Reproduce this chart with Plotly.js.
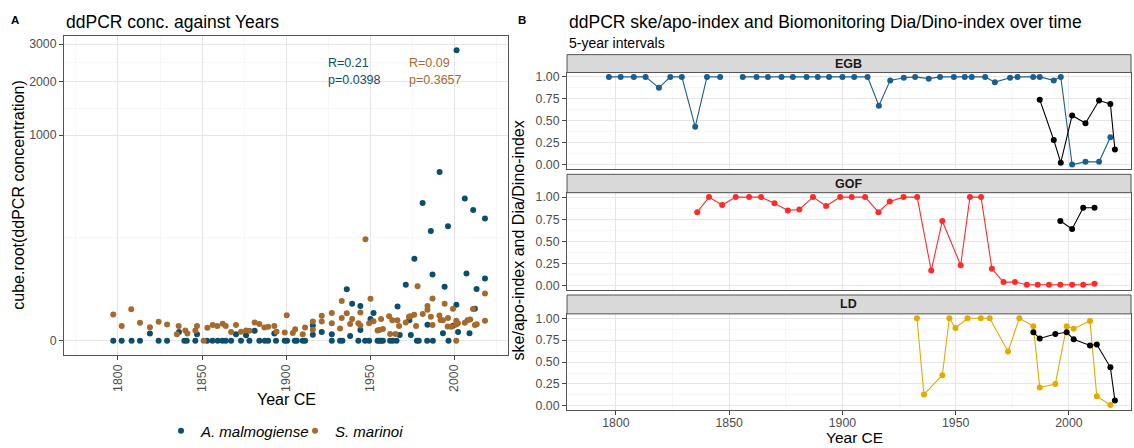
<!DOCTYPE html>
<html>
<head>
<meta charset="utf-8">
<script src="https://cdn.plot.ly/plotly-3.0.1.min.js"></script>
<style>html,body{margin:0;padding:0;background:#fff;}#chart{width:1134px;height:448px;}</style>
</head>
<body>
<div id="chart"></div>
<script>
// ---------- Panel A data: cube root of ddPCR concentration ----------
const amalYear = [1797.2,1802.2,1808.1,1813.1,1824.2,1829.2,1839.5,1840.9,1846,1853,1856.2,1859.3,1862.1,1864.1,1867.3,1873.2,1878.2,1884.1,1887.3,1889.3,1894,1899.2,1900.6,1905.2,1906.4,1909.9,1911.3,1927.2,1932.1,1933.5,1943,1947,1949.4,1954.4,1955.4,1956.5,1957.6,1961.9,1963.5,1965.7,1977.8,1978.9,1983.9,1987.3,1996.6,
  1819,1836.3,1847,1870.2,1876.2,1881.3,1893,1915.9,1915.9,1921.2,1927.2,1936.1,1938.1,1939.3,1944.2,1944.2,1950.2,1952,1966.3,1967.6,1971.2,1973.3,1974.2,1976.3,1981.2,1984.1,1986.1,1987.1,1991.3,1993.3,1994.3,1996.3,1999.3,2001.3,2001.4,2002.3,2006.3,2007.3,2009.1,2011.3,2012.3,2013.3,2018.3,2018.3];
const amalCbrt = [0,0,0,0,0,0,0,0,0,0,0,0,0,0,0,0,0,0,0,0,0,0,0,0,0,0,0,0,0,0,0,0,0,0,0,0,0,0,0,0,0,0,0,0,0,
  0.35,0.42,0.32,0.32,0.27,0.48,0.35,0.74,0.29,0.42,0.31,2.5,0.23,1.80,1.69,0.52,1.06,1.35,1.66,0.28,2.72,0.99,0.28,3.98,6.70,0.78,5.34,3.22,8.20,0.36,2.62,5.57,0.73,1.75,14.12,0.42,6.91,3.27,0.36,6.36,1.56,2.51,5.94,3.03];
const smarYear = [1797.2,1802.2,1807.9,1813.1,1819,1824.2,1829.2,1835,1836.1,1840.1,1841.3,1846,1847,1851,1853.2,1856.3,1859.1,1862.3,1864.1,1867.3,1870.2,1873.2,1876.2,1878.2,1881.3,1884.1,1887.1,1889.3,1893,1894.3,1899.2,1900.4,1904,1905.4,1909.9,1911.3,1915.9,1915.9,1921.2,1921.2,1927.2,1927.2,1932.1,1933.1,1933.1,1936.1,1938.1,1939.3,1943,1944.2,1944.2,1947.2,1949.4,1950.2,1952,1954.4,1955.4,1956.5,1957.6,1961.3,1961.9,1963.2,1965.1,1966.2,1967.2,1971.2,1973.1,1974,1976.2,1977.3,1978.2,1981.3,1984.1,1984.1,1986.1,1987.1,1987.1,1991.2,1991.9,1993.3,1994.3,1996.1,1996.3,1998.2,1999.3,2001.2,2001.2,2001.2,2002.2,2006.3,2007.9,2009.5,2011.2,2012.3,2013.4,2018.3,2018.3];
const smarCbrt = [1.27,0.71,1.53,0.87,0.66,0.92,0.79,0.32,0.71,0.50,0.35,0.50,0.71,0,0.63,0.76,0.71,0.82,0.71,0.42,0.76,0.43,0.50,0.48,0.88,0.81,0.64,0.68,0.72,0.43,0.40,1.24,0.37,0.56,0.31,0.64,0.93,0.53,1.21,0.93,1.35,0.85,0.59,1.93,1.11,1.34,0.81,1.06,0.85,1.37,0.74,4.93,0.85,2.04,0.95,0.50,0.52,1.05,0.57,1.19,0.33,1.0,0.33,1.0,0.71,0.88,1.17,1.19,1.26,0.72,2.65,1.30,1.69,1.51,1.17,2.05,0.77,1.22,1.01,1.0,1.80,0.69,1.10,0.68,1.56,0,0.97,0.79,0.85,0.87,0.99,1.03,1.54,0.77,0.80,2.30,0.97];
const concTicks = [0, 1000, 2000, 3000];
const concTickLabels = ['0', '1000', '2000', '3000'];
const yearTicks = [1800, 1850, 1900, 1950, 2000];

// ---------- Panel B data: indices per 5-year interval ----------
const egbYear  = [1796.9,1802.1,1807.9,1813.1,1819,1824,1829.1,1835,1840.2,1846,1851,1856,1862.1,1867.1,1873.1,1878.1,1884.2,1889.1,1894.1,1900,1905.2,1911.1,1916.1,1921.1,1927.1,1932.1,1938.1,1943.1,1949.2,1954,1957.1,1963,1967.3,1974,1977.3,1984.2,1987.1,1993.3,1996.4,2001.4,2007.3,2013.3,2018.3];
const egbIndex = [1,1,1,1,0.875,1,1,0.43,1,1,null,1,1,1,1,1,1,1,1,1,1,1,0.67,0.96,0.99,1,0.98,1,1,1,1,1,0.94,0.99,1,1,1,0.96,1,0.0,0.03,0.03,0.31];
const egbDinoYear  = [1987.1,1993.3,1996.4,2001.4,2007.3,2013.3,2018.3,2020.3];
const egbDinoIndex = [0.74,0.28,0.02,0.56,0.47,0.73,0.69,0.17];
const gofYear  = [1835.9,1841.1,1846.9,1852.9,1858.8,1864.1,1870,1875.9,1881,1887,1892.8,1899,1904.1,1910,1915.9,1920.9,1927,1933,1939.2,1944.1,1952.2,1956.3,1961.2,1966,1971.1,1976.2,1981.4,1986.2,1991.2,1996.2,2001.4,2006.3,2011.3];
const gofIndex = [0.83,1,0.91,1,1,1,0.93,0.85,0.86,1,0.90,1,1,1,0.83,0.95,1,1,0.17,0.73,0.23,1,1,0.19,0.04,0.04,0.01,0.01,0.01,0.01,0.01,0.01,0.02];
const gofDinoYear  = [1996.2,2001.4,2006.3,2011.3];
const gofDinoIndex = [0.73,0.64,0.88,0.88];
const ldYear  = [1932.9,1936,1944.1,1947.2,1949.9,1955.2,1961.1,1965,1973.1,1978.1,1984.3,1987.1,1994,1999,2002.1,2009.3,2012.3,2018.3];
const ldIndex = [1,0.13,0.35,1,0.89,1,1,1,0.62,1,0.91,0.21,0.25,0.91,0.88,0.97,0.11,0.01];
const ldDinoYear  = [1984.3,1987.1,1994,1999,2002.1,2009.3,2012.3,2018.3,2020.3];
const ldDinoIndex = [0.84,0.77,0.82,0.84,0.76,0.69,0.70,0.44,0.06];
const indexTicks = [0, 0.25, 0.5, 0.75, 1];
const indexTickLabels = ['0.00', '0.25', '0.50', '0.75', '1.00'];
const facetNames = ['EGB', 'GOF', 'LD'];

// ---------- styling ----------
const W = 1134, H = 448;
const FONT = 'Liberation Sans, Arial, Helvetica, sans-serif';
const px = v => v / W;
const py = v => 1 - v / H;
const BLUE_A = '#0b4f6c', BROWN_A = '#a66a2c';
const C_EGB = '#1b5f92', C_GOF = '#ff2a2a', C_LD = '#e3aa00';

const traces = [
  {type:'scatter', mode:'markers', x: amalYear, y: amalCbrt, xaxis:'x', yaxis:'y',
   name:'<i>A. malmogiense</i>', marker:{color:BLUE_A, size:6}, showlegend:true},
  {type:'scatter', mode:'markers', x: smarYear, y: smarCbrt, xaxis:'x', yaxis:'y',
   name:'<i>S. marinoi</i>', marker:{color:BROWN_A, size:6}, showlegend:true},
  {type:'scatter', mode:'lines+markers', x: egbYear, y: egbIndex, xaxis:'x2', yaxis:'y2',
   line:{color:C_EGB, width:1.1}, marker:{color:C_EGB, size:6}, showlegend:false, connectgaps:false},
  {type:'scatter', mode:'lines+markers', x: egbDinoYear, y: egbDinoIndex, xaxis:'x2', yaxis:'y2',
   line:{color:'#000', width:1.1}, marker:{color:'#000', size:6}, showlegend:false},
  {type:'scatter', mode:'lines+markers', x: gofYear, y: gofIndex, xaxis:'x3', yaxis:'y3',
   line:{color:C_GOF, width:1.1}, marker:{color:C_GOF, size:6}, showlegend:false},
  {type:'scatter', mode:'lines+markers', x: gofDinoYear, y: gofDinoIndex, xaxis:'x3', yaxis:'y3',
   line:{color:'#000', width:1.1}, marker:{color:'#000', size:6}, showlegend:false},
  {type:'scatter', mode:'lines+markers', x: ldYear, y: ldIndex, xaxis:'x4', yaxis:'y4',
   line:{color:C_LD, width:1.1}, marker:{color:C_LD, size:6}, showlegend:false},
  {type:'scatter', mode:'lines+markers', x: ldDinoYear, y: ldDinoIndex, xaxis:'x4', yaxis:'y4',
   line:{color:'#000', width:1.1}, marker:{color:'#000', size:6}, showlegend:false}
];

const gridMajor = '#e6e6e6', gridMinor = '#f2f2f2', lineCol = '#555';
const tickFont = {family: FONT, size: 12.3, color: '#4d4d4d'};
function baseAxis(extra) {
  return Object.assign({
    showline:true, mirror:true, linecolor:lineCol, linewidth:1,
    ticks:'outside', ticklen:4, tickcolor:'#444', tickwidth:1,
    tickfont: tickFont, showgrid:true, gridcolor:gridMajor, gridwidth:1,
    zeroline:false, fixedrange:true
  }, extra);
}
const xMinor = {tickmode:'array', tickvals:[1775,1825,1875,1925,1975,2025], showgrid:true, gridcolor:gridMinor, gridwidth:0.6, ticks:''};
const idxMinor = {tickmode:'array', tickvals:[0.125,0.375,0.625,0.875], showgrid:true, gridcolor:gridMinor, gridwidth:0.6, ticks:''};
const concTickVals = concTicks.map(Math.cbrt);
const concMinor = [];
for (let i = 0; i < concTickVals.length - 1; i++) concMinor.push((concTickVals[i] + concTickVals[i+1]) / 2);

const bDomX = [px(567), px(1131)];
const bRangeX = [1778.4, 2027.4];
const facetPx = [[73,170],[194,292],[316,413]];
const stripPx = [[55,73],[175.5,194],[297,316]];

const layout = {
  width: W, height: H,
  margin: {l:0, r:0, t:0, b:0},
  paper_bgcolor:'#fff', plot_bgcolor:'#fff',
  font: {family: FONT, color:'#000'},
  showlegend: true,
  legend: {orientation:'h', x: px(161), xanchor:'left', y: py(434), yanchor:'middle',
           entrywidth: 89, entrywidthmode:'pixels',
           font:{family: FONT, size:15, color:'#000'}, bgcolor:'rgba(0,0,0,0)', itemclick:false, tracegroupgap:0},
  hovermode: false,
  xaxis: baseAxis({domain:[px(64), px(508)], range:[1767.9, 2032], anchor:'y',
    tickmode:'array', tickvals: yearTicks, ticktext: yearTicks.map(String), tickangle:-90, minor: xMinor}),
  yaxis: baseAxis({domain:[py(357), py(36)], range:[-0.676, 14.83], anchor:'x',
    tickmode:'array', tickvals: concTickVals, ticktext: concTickLabels,
    minor:{tickmode:'array', tickvals: concMinor, showgrid:true, gridcolor:gridMinor, gridwidth:0.6, ticks:''}}),
  annotations: [],
  shapes: []
};
facetNames.forEach((nm, i) => {
  const n = i + 2;
  const [top, bot] = facetPx[i];
  layout['xaxis' + n] = baseAxis({domain: bDomX, range: bRangeX, anchor: 'y' + n,
    tickmode:'array', tickvals: yearTicks, ticktext: yearTicks.map(String),
    showticklabels: i === 2, ticks: i === 2 ? 'outside' : '', ticklen: 3.5, ticklabelstandoff: -2, minor: xMinor});
  layout['yaxis' + n] = baseAxis({domain: [py(bot), py(top)], range: [-0.05, 1.05], anchor: 'x' + n,
    tickmode:'array', tickvals: indexTicks, ticktext: indexTickLabels, minor: idxMinor});
  const [s0, s1] = stripPx[i];
  layout.shapes.push({type:'rect', xref:'paper', yref:'paper', x0: bDomX[0], x1: bDomX[1], y0: py(s1), y1: py(s0),
    fillcolor:'#d9d9d9', line:{color:'#555', width:1}, layer:'above'});
  layout.annotations.push({xref:'paper', yref:'paper', x: (bDomX[0]+bDomX[1])/2, y: py((s0+s1)/2),
    text:'<b>' + nm + '</b>', showarrow:false, xanchor:'center', yanchor:'middle',
    font:{family: FONT, size:12.5, color:'#1a1a1a'}});
});

const ann = (x, y, text, size, opts) => Object.assign({xref:'paper', yref:'paper', x: px(x), y: py(y), text,
  showarrow:false, xanchor:'left', yanchor:'middle', font:{family: FONT, size, color:'#000'}}, opts || {});
layout.annotations.push(
  ann(9, 20, '<b>A</b>', 11.5),
  ann(516, 20, '<b>B</b>', 11.5),
  ann(64, 22, 'ddPCR conc. against Years', 17.5),
  ann(567, 22, 'ddPCR ske/apo-index and Biomonitoring Dia/Dino-index over time', 17.5),
  ann(567, 43, '5-year intervals', 14),
  ann(326, 63, 'R=0.21', 12.5, {font:{family: FONT, size:12.5, color: BLUE_A}}),
  ann(326, 81, 'p=0.0398', 12.5, {font:{family: FONT, size:12.5, color: BLUE_A}}),
  ann(407, 63, 'R=0.09', 12.5, {font:{family: FONT, size:12.5, color: BROWN_A}}),
  ann(407, 81, 'p=0.3657', 12.5, {font:{family: FONT, size:12.5, color: BROWN_A}}),
  ann(286, 402, 'Year CE', 16, {xanchor:'center'}),
  ann(854, 440.5, 'Year CE', 15.5, {xanchor:'center'}),
  ann(19, 197, 'cube.root(ddPCR concentration)', 16, {xanchor:'center', textangle:-90}),
  ann(518, 242, 'ske/apo-index and Dia/Dino-index', 16, {xanchor:'center', textangle:-90})
);

Plotly.newPlot('chart', traces, layout, {staticPlot:true, displayModeBar:false});
</script>
</body>
</html>
